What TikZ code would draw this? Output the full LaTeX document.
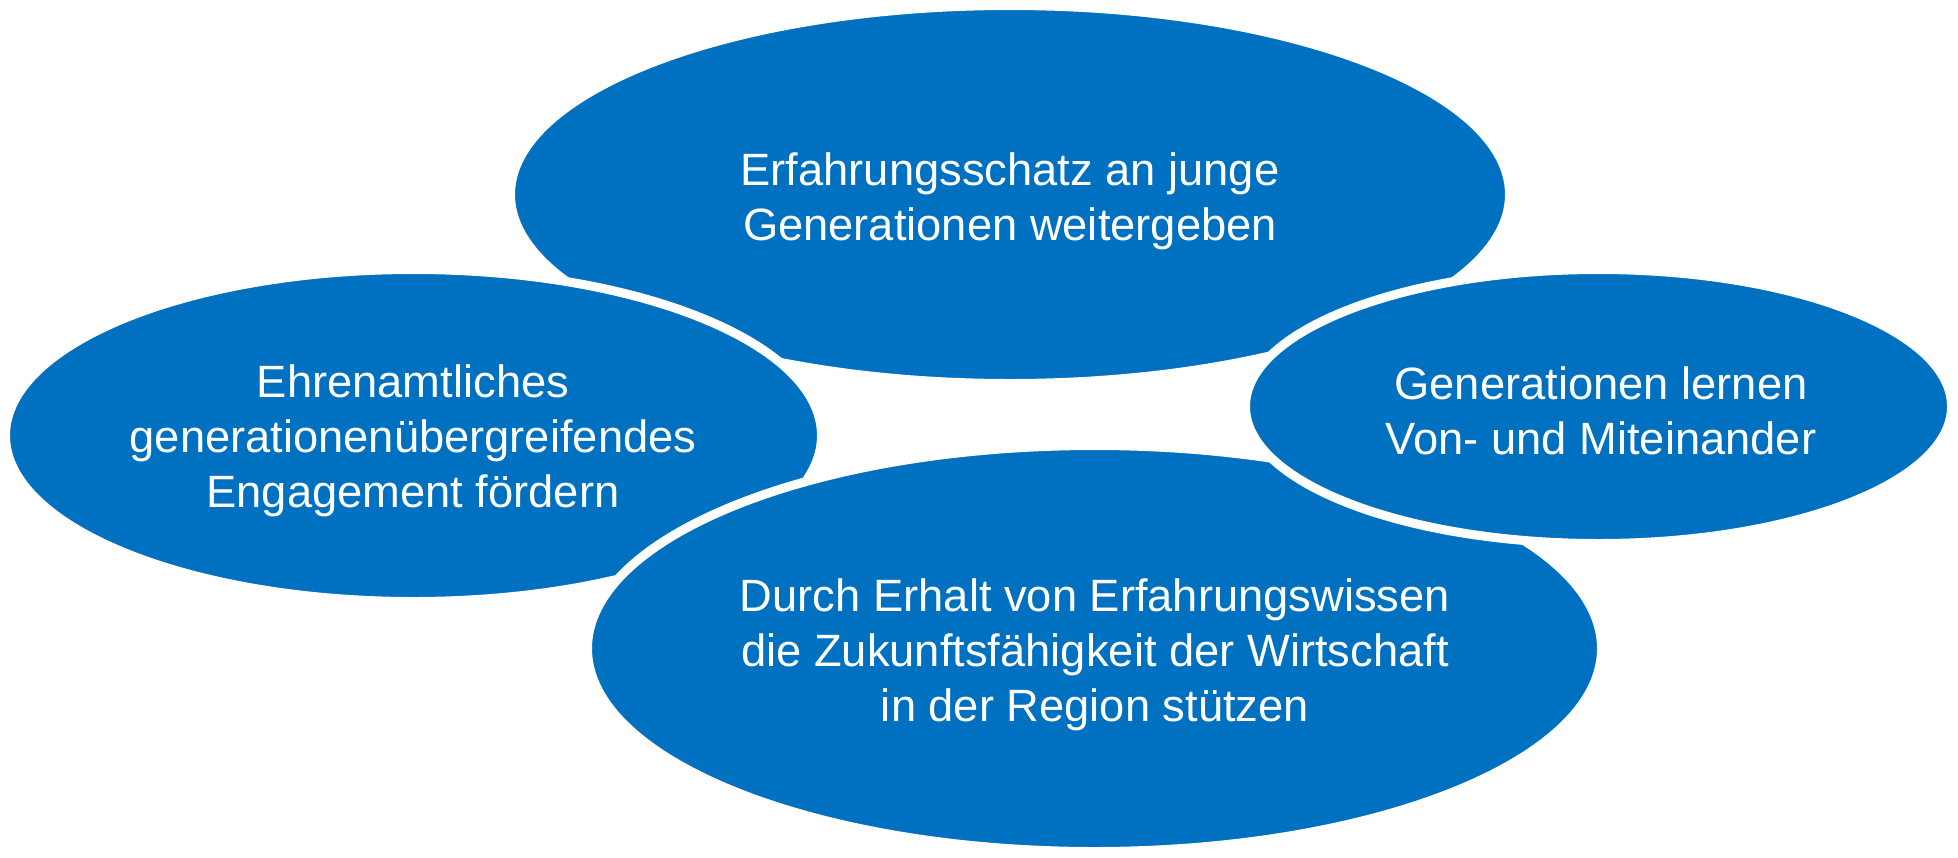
\documentclass[tikz,border=0pt]{standalone}
\usepackage{fontspec}
\setmainfont{Liberation Sans}
\usetikzlibrary{shapes.geometric}
\definecolor{blu}{HTML}{0070C0}
\begin{document}
\begin{tikzpicture}[x=0.5pt,y=-0.5pt,
  bubble/.style={ellipse, fill=blu, draw=white, line width=4.5pt, inner sep=0pt, outer sep=0pt},
  lbl/.style={text=white, align=center, inner sep=0pt, font=\fontsize{22.65pt}{27.5pt}\selectfont}]
\useasboundingbox[fill=white] (0,0) rectangle (1958,857);
\node[bubble, minimum width=499.5pt, minimum height=189pt] (top) at (1010,194.5) {};
\node[bubble, minimum width=408pt, minimum height=166pt] (left) at (413.5,435.5) {};
\node[bubble, minimum width=507pt, minimum height=203pt] (bottom) at (1094.5,648.5) {};
\node[bubble, minimum width=353pt, minimum height=137pt] (right) at (1598.5,406.5) {};
\node[lbl] (ttop) at (1010,201) {Erfahrungsschatz an junge\\Generationen weitergeben};
\node[lbl] (tleft) at (413,441) {Ehrenamtliches\\generationen\"ubergreifendes\\Engagement f\"ordern};
\node[lbl] (tbottom) at (1095,654.5) {Durch Erhalt von Erfahrungswissen\\die Zukunftsf\"ahigkeit der Wirtschaft\\in der Region st\"utzen};
\node[lbl] (tright) at (1601,411) {Generationen lernen\\Von- und Miteinander};
\end{tikzpicture}
\end{document}
